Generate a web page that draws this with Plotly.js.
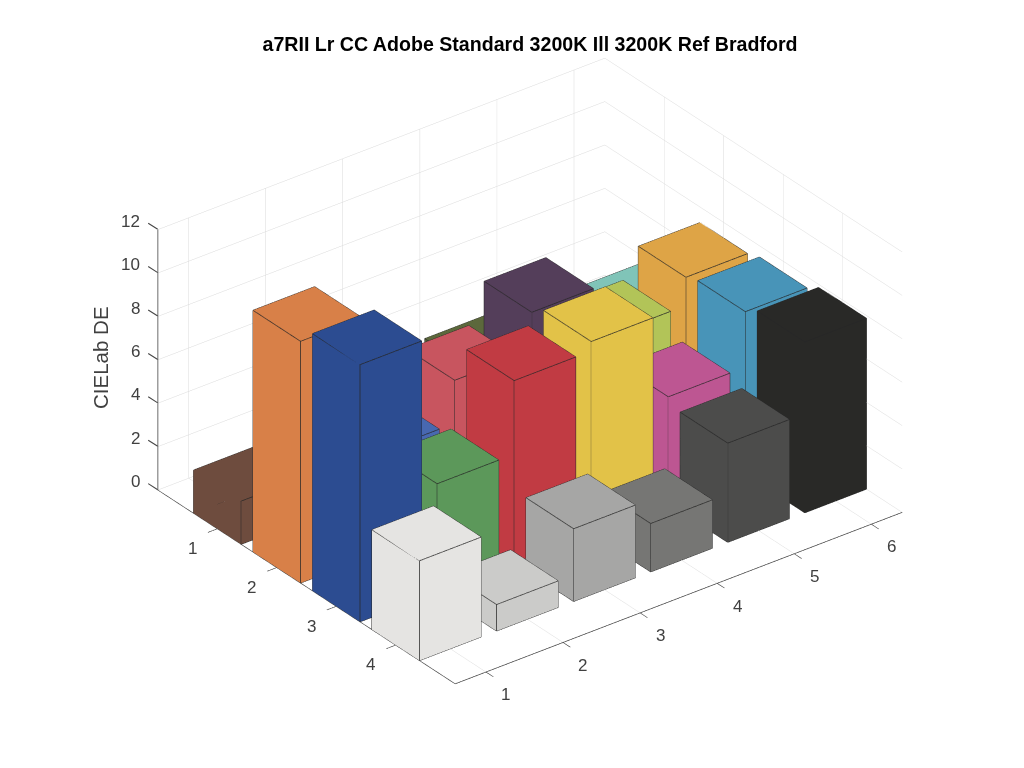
<!DOCTYPE html>
<html><head><meta charset="utf-8">
<script src="https://cdn.plot.ly/plotly-3.0.1.min.js"></script>
<style>html,body{margin:0;padding:0;background:#fff}#c{width:1024px;height:768px}</style></head>
<body><div id="c"></div>
<script>
var rows=[1,2,3,4];
var cols=[1,2,3,4,5,6];
var zTicks=[0,2,4,6,8,10,12];
var row1=[1.99,3.0,4.0,3.96,4.0,3.61];
var row2=[11.14,4.64,6.62,8.39,5.98,7.28];
var row3=[11.85,5.0,8.39,8.83,4.92,7.48];
var row4=[4.6,1.22,3.35,2.23,4.57,7.87];
var values=[row1,row2,row3,row4];
var colors1=['rgb(110,76,62)','rgb(200,150,130)','rgb(95,125,165)','rgb(92,104,60)','rgb(130,125,175)','rgb(128,196,184)'];
var colors2=['rgb(216,128,72)','rgb(72,104,176)','rgb(200,85,95)','rgb(84,62,90)','rgb(178,196,88)','rgb(222,164,70)'];
var colors3=['rgb(44,76,145)','rgb(92,152,90)','rgb(193,59,67)','rgb(226,194,72)','rgb(189,86,146)','rgb(72,148,184)'];
var colors4=['rgb(229,228,226)','rgb(203,203,201)','rgb(166,166,165)','rgb(118,118,116)','rgb(76,76,75)','rgb(41,41,39)'];
var barColors=[colors1,colors2,colors3,colors4];
var xRange=[0.6,6.4], yRange=[5,0], zRange=[0,12];
var hw=0.4;
var traces=[];
var ex=[],ey=[],ez=[];
var edges=[[0,1],[1,2],[2,3],[3,0],[4,5],[5,6],[6,7],[7,4],[0,4],[1,5],[2,6],[3,7]];
rows.forEach(function(r,ri){cols.forEach(function(c,ci){
  var h=values[ri][ci];
  var X=[c-hw,c+hw,c+hw,c-hw,c-hw,c+hw,c+hw,c-hw];
  var Y=[r-hw,r-hw,r+hw,r+hw,r-hw,r-hw,r+hw,r+hw];
  var Z=[0,0,0,0,h,h,h,h];
  traces.push({type:'mesh3d',x:X,y:Y,z:Z,
    i:[0,0,4,4,0,0,1,1,2,2,3,3],
    j:[1,2,5,6,1,5,2,6,3,7,0,4],
    k:[2,3,6,7,5,4,6,5,7,6,4,7],
    color:barColors[ri][ci],flatshading:true,
    lighting:{ambient:1,diffuse:0,specular:0,roughness:1,fresnel:0},
    hoverinfo:'skip',showscale:false});
  edges.forEach(function(e){
    ex.push(X[e[0]],X[e[1]],null);ey.push(Y[e[0]],Y[e[1]],null);ez.push(Z[e[0]],Z[e[1]],null);
  });
});});
traces.push({type:'scatter3d',mode:'lines',x:ex,y:ey,z:ez,line:{color:'rgb(38,38,38)',width:1.5},hoverinfo:'skip',showlegend:false});
function ax(range,vals,tk){return {range:range,autorange:false,tickmode:'array',tickvals:vals,ticktext:vals.map(String),tickangle:0,
  showgrid:true,gridcolor:'rgb(218,218,218)',gridwidth:1,showline:true,linecolor:'rgb(60,60,60)',linewidth:1.5,
  zeroline:false,showbackground:false,showspikes:false,ticks:tk,ticklen:12,tickwidth:1.5,tickcolor:'rgb(60,60,60)',
  showticklabels:false,title:{text:''}};}
var tf={family:'Liberation Sans',size:17,color:'rgb(64,64,64)'};
var sceneAnn=[];
zTicks.forEach(function(z){
  sceneAnn.push({x:xRange[0],y:yRange[1],z:z,text:String(z),showarrow:false,xanchor:'right',xshift:-16,yshift:8,font:tf});
  sceneAnn.push({x:xRange[0],y:yRange[1],z:z,text:'',showarrow:true,arrowhead:0,arrowwidth:1.1,arrowcolor:'rgb(70,70,70)',ax:-11,ay:-7,standoff:0});
});
rows.forEach(function(r){sceneAnn.push({x:xRange[0],y:r,z:0,text:String(r),showarrow:false,xshift:-25,yshift:-20,font:tf});});
cols.forEach(function(c){sceneAnn.push({x:c,y:yRange[0],z:0,text:String(c),showarrow:false,xshift:20,yshift:-23,font:tf});});
var d=2.0;
var layout={width:1024,height:768,margin:{l:0,r:0,t:0,b:0},paper_bgcolor:'#fff',showlegend:false,
 title:{text:'a7RII Lr CC Adobe Standard 3200K Ill 3200K Ref Bradford',font:{family:'Liberation Sans',size:19.6,color:'#000',weight:'bold'},x:530/1024,xanchor:'center',y:1-44/768,yanchor:'middle',xref:'paper',yref:'paper'},
 scene:{domain:{x:[0.035,1],y:[0.0394,0.9954]},aspectmode:'manual',aspectratio:{x:1.535,y:1.331,z:0.8194},
  camera:{projection:{type:'orthographic'},up:{x:0,y:0,z:1},center:{x:0,y:0,z:0},eye:{x:-0.527*d,y:-0.687*d,z:0.5*d}},
  xaxis:ax(xRange,cols,'outside'),yaxis:ax(yRange,rows,'outside'),zaxis:ax(zRange,zTicks,''),bgcolor:'#fff',annotations:sceneAnn},
 annotations:[{text:'CIELab DE',xref:'paper',yref:'paper',x:101/1024,y:1-358/768,xanchor:'center',yanchor:'middle',showarrow:false,textangle:-90,font:{family:'Liberation Sans',size:20.5,color:'rgb(64,64,64)'}}]
};
Plotly.newPlot('c',traces,layout,{displayModeBar:false});
</script></body></html>
